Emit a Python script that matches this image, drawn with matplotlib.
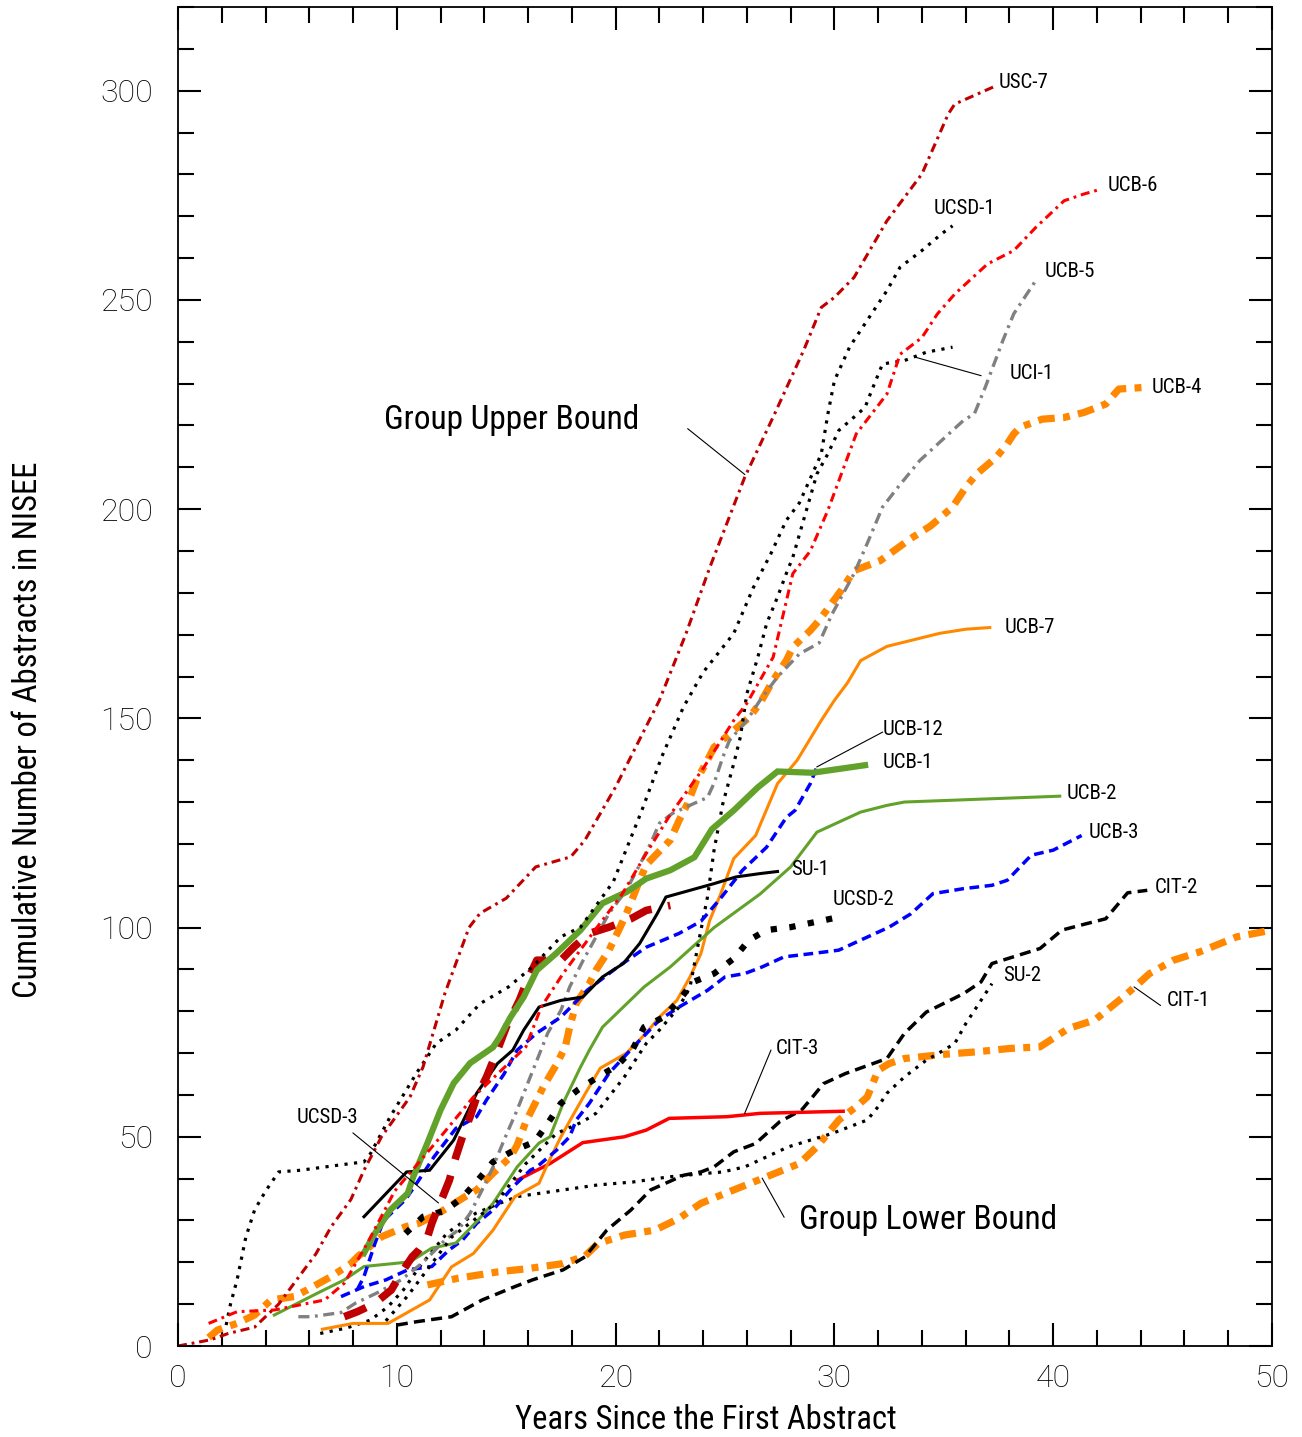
import matplotlib
matplotlib.use("Agg")
import matplotlib.pyplot as plt
from matplotlib import font_manager
from matplotlib.ticker import MultipleLocator

installed = {f.name for f in font_manager.fontManager.ttflist}
def pick(*names):
    return [n for n in names if n in installed] + ['DejaVu Sans']

NARROW = pick('Roboto Condensed', 'Archivo Narrow', 'PT Sans Narrow', 'Liberation Sans Narrow')
TICKF = pick('Roboto', 'Liberation Sans')
plt.rcParams['font.family'] = NARROW
plt.rcParams['lines.scale_dashes'] = False

# cumulative abstracts per researcher vs. years since first abstract
usc7_x = [0, 1.5, 2.3, 3.5, 4.6, 6.3, 7.0, 7.9, 8.5, 9.3, 10.6, 11.2, 12.2, 13.3, 13.8, 15.0, 16.35, 17.95, 18.6,
          20.0, 22.0, 23.2, 24.3, 25.9, 27.2, 28.6, 29.4, 30.0, 30.9, 32.4, 34.0, 35.2, 35.5, 37.4]
usc7_y = [0, 1.5, 3, 4.5, 10, 22, 28.5, 35, 42, 50, 59.5, 66.7, 84.3, 100, 103.4, 107, 114.5, 116.9, 120.9,
          133.6, 154.3, 170, 186, 207.6, 222, 238, 248.2, 250.6, 255.4, 268.9, 280.1, 294.4, 296.8, 301.2]

ucb6_x = [1.4, 2.7, 4.4, 6.7, 7.6, 8.7, 9.9, 12.0, 13.5, 15.0, 15.9, 16.6, 17.6, 19.0, 20.3, 21.4, 22.5, 24.0,
          25.4, 26.0, 27.2, 28.1, 28.9, 29.7, 31.0, 32.4, 33.0, 34.0, 34.7, 35.5, 37.0, 38.2, 39.2, 40.5, 41.4, 42.2]
ucb6_y = [5.4, 8.2, 8.6, 11, 15, 25, 37, 50, 59.5, 67, 71.5, 81, 89, 99, 108, 117.7, 127, 138,
          149.5, 153.6, 164.6, 184.6, 190, 199.7, 218, 227.5, 237, 241, 246.6, 251.4, 258.6, 261.8, 267.3, 273.7, 275.3, 276.5]

ucsd1_x = [2.2, 2.4, 2.7, 3.1, 3.5, 4.0, 4.6, 5.6, 7.3, 8.5, 8.8, 9.7, 10.9, 11.8, 12.7, 13.8, 15.1, 16.2, 17.5,
           18.4, 19.9, 21.2, 22.1, 23.1, 24.0, 25.4, 26.3, 27.1, 27.8, 28.4, 29.4, 29.7, 30.0, 30.7, 31.7, 32.4,
           33.0, 34.0, 34.9, 35.4]
ucsd1_y = [5, 10, 15.8, 26, 32.5, 37, 41.6, 42, 43.2, 44, 46, 54.8, 65.2, 72.3, 75.5, 81.8, 85.8, 90.6, 97.8,
           100.1, 111, 128, 140.7, 152.7, 161, 170.3, 181.3, 189.4, 197.3, 201.5, 213.2, 222.7, 230.7, 238.8, 246.7, 252.2,
           257.8, 261.8, 265.8, 267.7]

uci1_x = [9.5, 10.5, 11.5, 12.5, 13.5, 14.5, 15.9, 17.3, 18.5, 19.1, 20.4, 21.4, 22.0, 22.9, 23.4, 23.9, 24.2,
          24.5, 24.9, 25.4, 25.7, 26.0, 26.5, 26.9, 27.4, 27.8, 28.1, 29.2, 29.7, 30.2, 30.9, 31.4, 31.7, 32.2,
          33.2, 34.2, 35.4]
uci1_y = [6, 12, 19, 26, 30, 34, 43.6, 50.8, 53.6, 55.6, 64.3, 72.3, 75.5, 81, 85.8, 99.4, 107.3,
          118.5, 129.6, 139.2, 145.5, 155.9, 164.6, 172.6, 179, 184.6, 188.5, 208.4, 213.2, 218.8, 222, 224.3, 228.3, 234.7,
          235.5, 237.5, 238.7]

su2_x = [6.5, 7.7, 8.8, 9.6, 10.3, 11.05, 12.3, 13.6, 14.7, 15.5, 17.6, 19.2, 20.8, 22.4, 24.0, 24.9, 25.9, 26.9,
         27.9, 28.9, 29.9, 30.9, 31.5, 32.0, 32.4, 33.2, 34.2, 35.0, 35.5, 36.0, 36.9, 37.2]
su2_y = [3, 4.3, 6.2, 9.4, 13.4, 19, 27, 31.7, 34.1, 35.7, 37.3, 38.5, 39.2, 40.4, 41.2, 41.6, 42.8, 45.2,
         47.6, 49.2, 50.8, 52.8, 54, 57.2, 60.4, 64.3, 68.3, 70.7, 72.3, 77, 84.2, 86.6]

ucb5_x = [5.5, 6.1, 7.45, 8.1, 9.1, 10.2, 11.2, 12.2, 12.8, 13.35, 13.9, 14.4, 14.9, 15.5, 16.1, 16.9, 17.5, 17.9,
          18.5, 19.1, 19.7, 20.5, 21.1, 21.6, 22.0, 22.6, 23.6, 24.2, 24.5, 24.9, 25.2, 26.0, 26.6, 27.4, 28.4, 29.3,
          29.9, 30.9, 31.5, 32.2, 32.9, 33.9, 34.9, 35.9, 36.4, 36.9, 37.7, 38.2, 39.2]
ucb5_y = [7, 7, 8, 10.2, 12.7, 15.8, 20, 25.3, 27.7, 31.7, 37.3, 42.8, 49.2, 56.4, 64.3, 74.8, 80.2, 85.8,
          92, 97.7, 103.4, 109, 115, 120.1, 124.9, 127.3, 129.7, 131.1, 134.5, 140.7, 144.7, 149.5, 154.3, 159.9, 165.4, 168,
          175, 184.6, 191.8, 200.5, 205.2, 211.6, 216.4, 221.2, 222.8, 229.2, 240.3, 246.7, 254.6]

ucb4_x = [1.4, 1.8, 2.7, 3.5, 4.25, 5.3, 5.9, 7.0, 7.9, 8.2, 9.3, 10.4, 11.0, 11.9, 13.0, 13.65, 14.4, 15.2, 15.5,
          15.9, 16.4, 16.7, 17.3, 17.7, 17.9, 18.2, 18.8, 19.1, 19.7, 20.2, 20.5, 21.1, 21.4, 21.9, 22.5, 22.9, 23.3,
          23.7, 24.2, 24.5, 25.4, 26.1, 26.6, 27.2, 27.8, 28.1, 28.9, 29.3, 30.3, 30.9, 32.1, 33.5, 34.4, 35.4, 36.0,
          36.5, 37.4, 37.9, 38.2, 38.5, 39.5, 40.5, 41.4, 42.4, 43.0, 44.2]
ucb4_y = [2, 3.8, 5.4, 7.4, 11, 11.8, 13.4, 16.6, 19.7, 21.3, 26.1, 28.5, 29.3, 31.7, 35.3, 37.3, 41.3, 45.2, 48,
          53.6, 58.8, 62, 67.3, 71.5, 76.2, 81.9, 86.6, 89.8, 94.6, 100, 103.4, 111.3, 115, 117.7, 120.9, 125.6, 129.7,
          135.2, 140, 143.1, 147.1, 150.2, 153.6, 159.1, 163.8, 167, 171, 173.4, 180.5, 185.3, 187.7, 193, 196, 200.5, 205.2,
          208.4, 212.4, 215.6, 218, 219.6, 221.5, 221.9, 223.1, 225.1, 228.7, 229.1]

ucb7_x = [6.6, 8.0, 9.6, 11.5, 12.5, 13.5, 14.4, 15.4, 16.5, 16.9, 17.5, 18.1, 18.7, 19.3, 19.7, 20.5, 21.4, 22.0,
          22.8, 23.4, 23.9, 24.3, 24.8, 25.4, 26.4, 27.4, 28.3, 29.4, 30.0, 30.6, 31.2, 32.4, 34.8, 36.0, 37.1]
ucb7_y = [4, 5.4, 5.4, 11, 18.9, 22.1, 27.7, 35.7, 38.9, 43.6, 50, 55.6, 61.1, 66.4, 67.6, 70, 74.8, 78.6,
          82.6, 88.2, 93.8, 101.7, 108, 116.5, 122, 134.4, 140, 149.5, 154.3, 158.5, 163.8, 167.2, 170.3, 171.3, 171.7]

ucb1_x = [8.5, 8.9, 9.7, 10.5, 10.75, 11.4, 12.0, 12.6, 13.35, 14.4, 14.7, 15.2, 15.8, 16.4, 17.3, 18.4, 19.4,
          20.5, 21.4, 22.5, 23.6, 24.4, 25.4, 26.5, 27.4, 29.0, 31.4]
ucb1_y = [22.2, 26.1, 32.5, 36.5, 40.4, 48.5, 56.4, 62.8, 67.6, 71.4, 73.8, 78.6, 83.4, 89.8, 93.9, 99.4, 105.8,
          108.5, 111.7, 113.7, 116.8, 123.5, 128, 133.5, 137.3, 137, 138.8]

ucb2_x = [4.4, 6.4, 7.6, 8.5, 10.6, 11.6, 12.7, 13.7, 14.4, 15.5, 16.5, 17.0, 17.6, 18.4, 18.8, 19.4, 21.3, 22.5,
          24.5, 26.6, 28.0, 29.2, 31.2, 32.4, 33.2, 40.3]
ucb2_y = [7.4, 12.7, 15.8, 19, 20.1, 23.4, 24.6, 30, 34.1, 42.8, 48.5, 50, 58, 66.7, 70.7, 76.2, 85.8, 90.6,
          100, 108, 114.5, 122.8, 127.6, 129.2, 130, 131.4]

ucb12_x = [8.2, 8.5, 9.0, 9.4, 10.4, 11.0, 11.7, 12.7, 13.65, 14.1, 14.9, 15.5, 16.4, 17.5, 18.7, 20.1, 21.4, 22.9,
           23.9, 24.8, 25.8, 26.9, 27.8, 28.2, 28.9, 29.2]
ucb12_y = [13.5, 16.6, 24.5, 30, 35, 39.6, 45.2, 52, 54.8, 58.8, 65, 70.7, 74.8, 78.6, 85, 90.6, 95.3, 98.6,
           101.5, 107, 113.7, 119.2, 126.3, 128, 134.4, 138.4]

ucb3_x = [7.45, 8.5, 9.5, 10.5, 11.6, 12.4, 13.0, 13.65, 14.4, 15.3, 16.1, 16.4, 17.3, 17.9, 18.2, 18.8, 19.7, 20.8,
          22.0, 22.9, 24.2, 25.0, 25.9, 26.7, 27.7, 29.0, 30.2, 31.2, 32.5, 33.5, 34.5, 35.9, 37.2, 37.9, 39.0, 40.0, 41.3]
ucb3_y = [11.8, 14.2, 15.8, 18.2, 19, 23, 25.3, 29.3, 32.5, 38, 42, 42.8, 46.8, 50, 54, 58, 65.2, 71.4,
          77.9, 81, 85, 88.2, 89, 90.6, 93, 93.8, 94.6, 97, 100.1, 103.3, 108.1, 109.3, 110.1, 111.3, 117.3, 118.5, 122]

su1_x = [8.5, 10.45, 11.5, 12.6, 13.35, 13.65, 14.6, 15.3, 15.8, 16.5, 17.5, 18.5, 19.4, 20.35, 21.1, 21.9, 22.3,
         23.4, 24.5, 25.5, 26.6, 27.4]
su1_y = [30.9, 41.6, 42, 49.2, 57.2, 60.4, 67.5, 70.7, 75.5, 81, 82.6, 83.4, 88.2, 91.4, 96.2, 103.3, 107.3,
         108.9, 110.5, 112.1, 112.9, 113.4]

ucsd2_x = [10.4, 11.2, 12.2, 13.0, 13.7, 14.4, 15.3, 16.3, 16.9, 17.5, 18.3, 19.2, 20.1, 20.8, 21.3, 22.2, 22.9,
           23.55, 24.5, 25.4, 26.1, 26.9, 28.0, 29.1, 30.2]
ucsd2_y = [26.9, 30.9, 32.3, 35.5, 39.6, 44, 46.6, 48.8, 53.2, 58, 61.3, 64.3, 67.1, 71.1, 76.2, 78.6, 82.6,
           87, 89, 92.6, 97, 99.4, 100.1, 101.3, 102.5]

ucsd3_x = [7.6, 8.2, 9.0, 9.75, 10.2, 10.7, 11.0, 11.4, 11.6, 11.9, 12.1, 12.4, 12.7, 13.0, 13.35, 13.65, 14.1,
           14.6, 15.0, 15.6, 15.9, 16.4, 17.5, 18.1, 18.8, 19.7, 20.7, 21.4, 22.5]
ucsd3_y = [7, 8.2, 10.2, 13.4, 17.4, 21.3, 22.9, 26, 29.3, 33.3, 35.7, 39.6, 45.2, 50, 54.8, 59.5, 64.3,
           70.7, 76.2, 82.6, 86.6, 92.2, 92.2, 95.4, 98.6, 100.1, 102.1, 104.1, 105.3]

cit3_x = [15.5, 16.4, 17.0, 18.5, 20.4, 21.4, 22.45, 25.1, 26.6, 30.4]
cit3_y = [39.6, 42, 43.6, 48.6, 50, 51.6, 54.4, 54.8, 55.6, 56.1]

cit2_x = [10.0, 10.9, 12.5, 13.9, 15.4, 16.2, 17.6, 18.6, 19.6, 20.7, 21.6, 23.1, 23.9, 24.5, 25.4, 26.4, 27.5,
          28.5, 29.0, 29.5, 30.5, 32.4, 33.2, 34.2, 35.9, 36.7, 37.2, 39.4, 40.4, 41.5, 42.4, 43.4, 44.3]
cit2_y = [5, 5.8, 7, 11, 14.2, 15.8, 18.2, 21.3, 27.7, 32.5, 37.3, 40.8, 41.6, 42.8, 46.4, 48.4, 53.6,
          56.4, 59.5, 62.7, 65.1, 68.7, 74.7, 79.8, 84.2, 87, 91.4, 95, 99.4, 100.9, 102.1, 108.3, 108.9]

cit1_x = [11.4, 12.8, 14.6, 16.0, 17.6, 18.6, 19.2, 20.4, 21.8, 22.9, 23.9, 25.4, 26.5, 28.4, 29.2, 30.2, 31.0,
          31.5, 32.0, 32.5, 33.2, 35.0, 36.5, 38.0, 39.4, 40.7, 41.9, 43.2, 43.9, 44.4, 45.5, 46.7, 48.4, 50.0]
cit1_y = [14.6, 16.2, 17.7, 18.5, 19.7, 21.5, 24.5, 26.5, 27.7, 30.5, 34.1, 37.3, 39.6, 43.6, 47.6, 54, 57.2,
          59.5, 65.9, 67.5, 68.7, 69.7, 70.3, 71.1, 71.5, 75.9, 77.9, 83.4, 86.6, 89, 92.2, 94.2, 97.8, 99.4]

DRED, RED, GRAY, ORANGE, GREEN, BLUE = '#c00000', '#ff0000', '#808080', '#ff8800', '#62a22a', '#0000ff'
DOT = (2.3, 4.6)
series = [
    (cit1_x, cit1_y, ORANGE, 5.2, (12, 6, 5, 6)),
    (ucb4_x, ucb4_y, ORANGE, 5.2, (12, 6, 5, 6)),
    (cit2_x, cit2_y, 'k', 2.5, (8, 4.5)),
    (su2_x, su2_y, 'k', 2.3, DOT),
    (cit3_x, cit3_y, RED, 2.5, None),
    (ucb7_x, ucb7_y, ORANGE, 2.2, None),
    (ucb3_x, ucb3_y, BLUE, 2.5, (7, 4)),
    (ucb2_x, ucb2_y, GREEN, 2.2, None),
    (ucsd2_x, ucsd2_y, 'k', 4.5, (4.5, 9)),
    (ucb5_x, ucb5_y, GRAY, 2.4, (8, 4, 2, 4)),
    (uci1_x, uci1_y, 'k', 2.3, DOT),
    (ucb12_x, ucb12_y, BLUE, 2.5, (7, 4)),
    (su1_x, su1_y, 'k', 2.2, None),
    (ucsd3_x, ucsd3_y, DRED, 5.5, (17, 12)),
    (ucb1_x, ucb1_y, GREEN, 4.5, None),
    (ucsd1_x, ucsd1_y, 'k', 2.3, DOT),
    (ucb6_x, ucb6_y, RED, 2.2, (6.5, 3.5, 2, 3.5)),
    (usc7_x, usc7_y, DRED, 2.2, (6.5, 3.5, 2, 3.5)),
]

fig = plt.figure(figsize=(13.02, 14.37), dpi=100)
ax = fig.add_axes([178 / 1302, 1 - 1346 / 1437, (1272 - 178) / 1302, (1346 - 7) / 1437])

for x, y, c, lw, dash in series:
    if dash is None:
        ax.plot(x, y, color=c, lw=lw, solid_joinstyle='miter')
    else:
        ax.plot(x, y, color=c, lw=lw, dashes=dash, dash_capstyle='butt')

ax.set_xlim(0, 50)
ax.set_ylim(0, 320)
ax.xaxis.set_major_locator(MultipleLocator(10))
ax.xaxis.set_minor_locator(MultipleLocator(2))
ax.yaxis.set_major_locator(MultipleLocator(50))
ax.yaxis.set_minor_locator(MultipleLocator(10))
ax.tick_params(which='both', direction='in', top=True, right=True, width=1.5)
ax.tick_params(which='major', length=16.5)
ax.tick_params(which='minor', length=11.5)
ax.tick_params(axis='x', labelsize=23, pad=13)
ax.tick_params(axis='y', labelsize=23, pad=18)
for lab in ax.get_xticklabels() + ax.get_yticklabels():
    lab.set_family(TICKF)
    lab.set_weight('light')
for sp in ax.spines.values():
    sp.set_linewidth(1.3)

fig.text(706 / 1302, 1 - 1420 / 1437, 'Years Since the First Abstract', fontsize=23.5, ha='center', va='center')
fig.text(28 / 1302, 1 - 730 / 1437, 'Cumulative Number of Abstracts in NISEE', fontsize=23.5,
         ha='center', va='center', rotation=90)

# curve labels
labels = [
    ('USC-7', 37.5, 301.9), ('UCB-6', 42.5, 277.3), ('UCSD-1', 34.55, 271.8), ('UCB-5', 39.6, 256.7),
    ('UCI-1', 38.0, 232.4), ('UCB-4', 44.5, 229.0), ('UCB-7', 37.8, 171.8), ('UCB-12', 32.2, 147.4),
    ('UCB-1', 32.2, 139.5), ('UCB-2', 40.6, 132.0), ('UCB-3', 41.6, 122.8), ('SU-1', 28.0, 113.9),
    ('UCSD-2', 29.9, 106.8), ('CIT-2', 44.65, 109.6), ('SU-2', 37.7, 88.6), ('CIT-1', 45.2, 82.6),
    ('CIT-3', 27.3, 71.2), ('UCSD-3', 5.4, 54.7),
]
for txt, x, y in labels:
    ax.text(x, y, txt, fontsize=15, ha='left', va='center')

ax.text(9.4, 221.2, 'Group Upper Bound', fontsize=24, ha='left', va='center')
ax.text(28.4, 30.1, 'Group Lower Bound', fontsize=24, ha='left', va='center')

# leader lines from labels to curves
leaders = [
    ((23.3, 219.2), (25.9, 208.3)),
    ((36.7, 231.9), (33.7, 236.3)),
    ((32.2, 146.7), (29.2, 138.4)),
    ((44.9, 81.4), (43.7, 85.8)),
    ((27.1, 70.7), (25.9, 55.6)),
    ((8.0, 50.9), (11.9, 34.2)),
    ((27.7, 30.8), (26.7, 40.1)),
]
for (x0, y0), (x1, y1) in leaders:
    ax.plot([x0, x1], [y0, y1], color='k', lw=0.8)

fig.savefig('out.png', dpi=100)
